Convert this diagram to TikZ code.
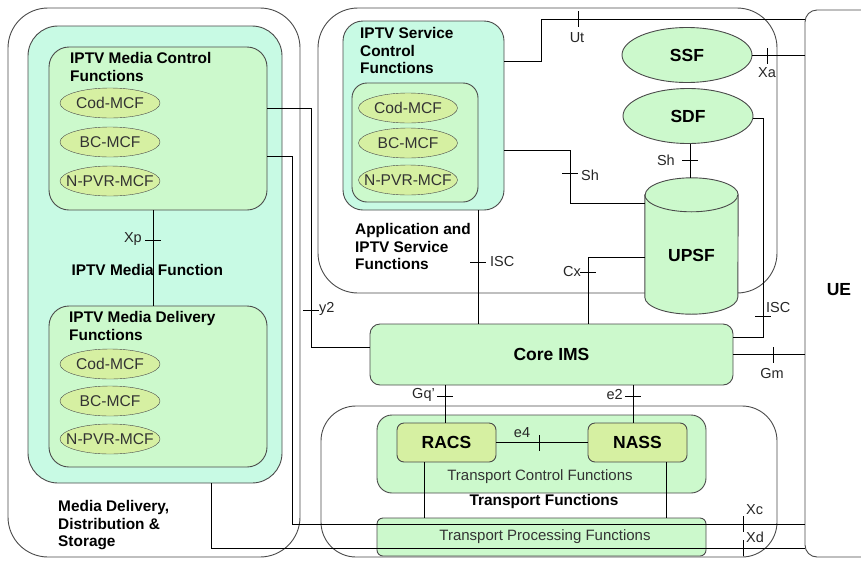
\documentclass[tikz,border=0pt]{standalone}
\usepackage{fontspec}
\setmainfont{Liberation Sans}
\usetikzlibrary{positioning,shapes.geometric,calc}

\definecolor{mintfill}{HTML}{C8FAE4}
\definecolor{greenfill}{HTML}{CCF9CC}
\definecolor{limefill}{HTML}{D6F0A2}
\definecolor{edgegray}{HTML}{4A4A4A}

\newcommand{\hdfont}{\fontsize{15.4}{17.8}\selectfont\bfseries}
\newcommand{\lgfont}{\fontsize{17.5}{20}\selectfont\bfseries}
\newcommand{\lblfont}{\fontsize{14.5}{16}\selectfont}
\newcommand{\txtfont}{\fontsize{15}{17}\selectfont}
\newcommand{\ellfont}{\fontsize{15.6}{17}\selectfont}
\newcommand{\htick}[1]{\draw[conn] ($(#1)+(-8,0)$) -- ($(#1)+(8,0)$);}
\newcommand{\vtick}[1]{\draw[conn] ($(#1)+(0,-8)$) -- ($(#1)+(0,8)$);}

\begin{document}
\begin{tikzpicture}[x=1pt, y=-1pt]
    % Style definitions for areas, functions and reference points
    \tikzset{area/.style={rectangle, draw=edgegray, line width=0.9pt, inner sep=0pt},
             mcfell/.style={ellipse, draw=edgegray, fill=limefill, minimum width=100pt,
                minimum height=30pt, inner sep=0pt, text=black!80, font=\ellfont,
                execute at begin node={\hbox to 0pt\bgroup\hss},
                execute at end node={\hss\egroup}},
             bigell/.style={ellipse, draw=edgegray, line width=0.9pt, fill=greenfill,
                minimum width=130pt, minimum height=55pt, font=\lgfont},
             title/.style={anchor=north west, align=left, inner sep=0pt, font=\hdfont},
             iface/.style={inner sep=1pt, text=black!85, font=\lblfont},
             conn/.style={draw=black, line width=0.8pt}}
    \useasboundingbox (0,0) rectangle (861,560);

    % Outer areas
    \node (mds) [area, rounded corners=40pt, minimum width=292pt, minimum height=549pt] at (154,282.5) {};
    \node (app) [area, rounded corners=40pt, minimum width=459pt, minimum height=285pt] at (547.5,150.5) {};
    \node (tf) [area, rounded corners=35pt, minimum width=456pt, minimum height=151pt] at (549,481.5) {};
    \node (ue) [area, rounded corners=12pt, minimum width=70pt, minimum height=547pt] at (840,283.5) {};
    \node (uelbl) [font=\lgfont] at (839,290) {UE};
    \node (mdslbl) [title] at (58,500) {Media Delivery,\\Distribution \&\\Storage};
    \node (applbl) [title] at (355,223) {Application and\\IPTV Service\\Functions};

    % IPTV Media Function
    \node (mf) [area, fill=mintfill, rounded corners=30pt, minimum width=254pt, minimum height=457pt] at (155,254.5) {};
    \node (mcf) [area, fill=greenfill, rounded corners=20pt, minimum width=218pt, minimum height=163pt] at (158,128.5) {};
    \node (mdf) [area, fill=greenfill, rounded corners=20pt, minimum width=218pt, minimum height=161pt] at (158,386.5) {};
    \node (mflbl) [font=\hdfont, anchor=west] at (68,270) {IPTV Media Function};
    \node (mcflbl) [title] at (70,52) {IPTV Media Control\\Functions};
    \node (mdflbl) [title] at (69,311) {IPTV Media Delivery\\Functions};
    \node (mcfcod) [mcfell] at (110,103) {Cod-MCF};
    \node (mcfbc) [mcfell] at (110,142) {BC-MCF};
    \node (mcfpvr) [mcfell] at (110,181) {N-PVR-MCF};
    \node (mdfcod) [mcfell] at (110,364) {Cod-MCF};
    \node (mdfbc) [mcfell] at (110,401) {BC-MCF};
    \node (mdfpvr) [mcfell] at (110,439) {N-PVR-MCF};

    % IPTV Service Control Functions
    \node (isc) [area, fill=mintfill, rounded corners=20pt, minimum width=161pt, minimum height=189pt] at (423.5,115.5) {};
    \node (iscm) [area, fill=greenfill, rounded corners=15pt, minimum width=126pt, minimum height=119pt] at (415,142.5) {};
    \node (isclbl) [title] at (360,27) {IPTV Service\\Control\\Functions};
    \node (isccod) [mcfell, minimum width=99pt] at (408,108) {Cod-MCF};
    \node (iscbc) [mcfell, minimum width=99pt] at (408,143) {BC-MCF};
    \node (iscpvr) [mcfell, minimum width=99pt] at (408,180) {N-PVR-MCF};

    % SSF, SDF and UPSF
    \node (ssf) [bigell] at (687,55) {SSF};
    \node (sdf) [bigell] at (688,116) {SDF};
    \node (upsf) [minimum width=93pt, minimum height=136pt, inner sep=0pt] at (691.5,246) {};
    \draw[draw=edgegray, line width=0.9pt, fill=greenfill]
        ($(upsf.north west)+(0,17)$) -- ($(upsf.south west)+(0,-17)$)
        arc[start angle=180, end angle=360, x radius=46.5pt, y radius=17pt]
        -- ($(upsf.north east)+(0,17)$)
        arc[start angle=0, end angle=180, x radius=46.5pt, y radius=17pt] -- cycle;
    \draw[draw=edgegray, line width=0.9pt] ($(upsf.north west)+(0,17)$)
        arc[start angle=180, end angle=360, x radius=46.5pt, y radius=17pt];
    \node (upsflbl) [font=\lgfont] at (691.5,255) {UPSF};

    % Core IMS
    \node (core) [area, fill=greenfill, rounded corners=10pt, minimum width=363pt, minimum height=61pt, font=\lgfont] at (551.5,354.5) {Core IMS};

    % Transport Functions
    \node (tcf) [area, fill=greenfill, rounded corners=15pt, minimum width=329pt, minimum height=78pt] at (541.5,454) {};
    \node (racs) [area, fill=limefill, rounded corners=7pt, minimum width=99pt, minimum height=39pt, font=\lgfont] at (446.5,442.5) {RACS};
    \node (nass) [area, fill=limefill, rounded corners=7pt, minimum width=99pt, minimum height=39pt, font=\lgfont] at (637.5,442.5) {NASS};
    \node (tcflbl) [font=\txtfont, text=black!80] at (540,477) {Transport Control Functions};
    \node (tflbl) [font=\hdfont] at (544,502) {Transport Functions};
    \node (tpf) [area, fill=greenfill, rounded corners=6pt, minimum width=329pt, minimum height=38pt] at (541.5,537) {};
    \node (tpflbl) [font=\txtfont, text=black!80] at (545,537) {Transport Processing Functions};

    % Bend points and reference points
    \coordinate (y2top) at (311,108);
    \coordinate (y2bot) at (311,347);
    \coordinate (xctop) at (292,156);
    \coordinate (xcbot) at (292,524);
    \coordinate (xdbot) at (211,548);
    \coordinate (uta) at (541,61);
    \coordinate (utb) at (541,19);
    \coordinate (sha) at (570,150);
    \coordinate (shb) at (570,203);
    \coordinate (iscx) at (478,262);
    \coordinate (cxa) at (588,257);
    \coordinate (iscra) at (763,118);
    \coordinate (iscrb) at (763,337);
    \coordinate (racsdown) at (424,0);
    \coordinate (nassdown) at (666,0);

    % Connectors
    \draw[conn] ([xshift=-5pt]mcf.south) -- ([xshift=-5pt]mdf.north);
    \draw[conn] (y2top -| mcf.east) -- (y2top) -- (y2bot) -- (y2bot -| core.west);
    \draw[conn] (xctop -| mcf.east) -- (xctop) -- (xcbot) -- (xcbot -| ue.west);
    \draw[conn] (xdbot |- mf.south) -- (xdbot) -- (xdbot -| ue.west);
    \draw[conn] (uta -| isc.east) -- (uta) -- (utb) -- (utb -| ue.west);
    \draw[conn] (sha -| isc.east) -- (sha) -- (shb) -- (shb -| upsf.west);
    \draw[conn] (iscx |- isc.south) -- (iscx |- core.north);
    \draw[conn] (cxa -| upsf.west) -- (cxa) -- (cxa |- core.north);
    \draw[conn] ([xshift=2pt]sdf.south) -- ([xshift=2pt]sdf.south |- upsf.north);
    \draw[conn] (ssf.east) -- (ssf.east -| ue.west);
    \draw[conn] (iscra -| sdf.east) -- (iscra) -- (iscrb) -- (iscrb -| core.east);
    \draw[conn] (core.east) -- (core.east -| ue.west);
    \draw[conn] ([xshift=-1.5pt]racs.north) -- ([xshift=-1.5pt]racs.north |- core.south);
    \draw[conn] ([xshift=-4.5pt]nass.north) -- ([xshift=-4.5pt]nass.north |- core.south);
    \draw[conn] (racs) -- (nass);
    \draw[conn] (racsdown |- racs.south) -- (racsdown |- tpf.north);
    \draw[conn] (nassdown |- nass.south) -- (nassdown |- tpf.north);

    % Reference point ticks
    \coordinate (xpt) at (153,240);   \htick{xpt}
    \coordinate (y2t) at (311,310);   \htick{y2t}
    \coordinate (utt) at (578,19);    \vtick{utt}
    \coordinate (sht) at (570,173);   \htick{sht}
    \htick{iscx}
    \coordinate (cxt) at (588,272);   \htick{cxt}
    \coordinate (shdt) at (690,160);  \htick{shdt}
    \coordinate (xat) at (767,56);    \vtick{xat}
    \coordinate (iscrt) at (763,316); \htick{iscrt}
    \coordinate (gmt) at (773,355);   \vtick{gmt}
    \coordinate (gqt) at (445,396);   \htick{gqt}
    \coordinate (e2t) at (633,396);   \htick{e2t}
    \coordinate (e4t) at (539,443);   \vtick{e4t}
    \coordinate (xct) at (743,524);   \vtick{xct}
    \coordinate (xdt) at (743,548);   \vtick{xdt}

    % Reference point labels
    \node (xplbl) [iface, anchor=east] at (143,239) {Xp};
    \node (y2lbl) [iface, anchor=west] at (318,309) {y2};
    \node (utlbl) [iface] at (577,38) {Ut};
    \node (shlbl) [iface, anchor=west] at (580,175) {Sh};
    \node (isclbl2) [iface, anchor=west] at (489,262) {ISC};
    \node (cxlbl) [iface, anchor=east] at (582,272) {Cx};
    \node (shdlbl) [iface, anchor=east] at (676,160) {Sh};
    \node (xalbl) [iface] at (767,73) {Xa};
    \node (iscrlbl) [iface, anchor=west] at (765,308) {ISC};
    \node (gmlbl) [iface] at (772,374) {Gm};
    \node (gqlbl) [iface, anchor=east] at (436,395) {Gq'};
    \node (e2lbl) [iface, anchor=east] at (624,395) {e2};
    \node (e4lbl) [iface] at (522,433) {e4};
    \node (xclbl) [iface, anchor=west] at (745,510) {Xc};
    \node (xdlbl) [iface, anchor=west] at (745,537) {Xd};

\end{tikzpicture}
\end{document}
